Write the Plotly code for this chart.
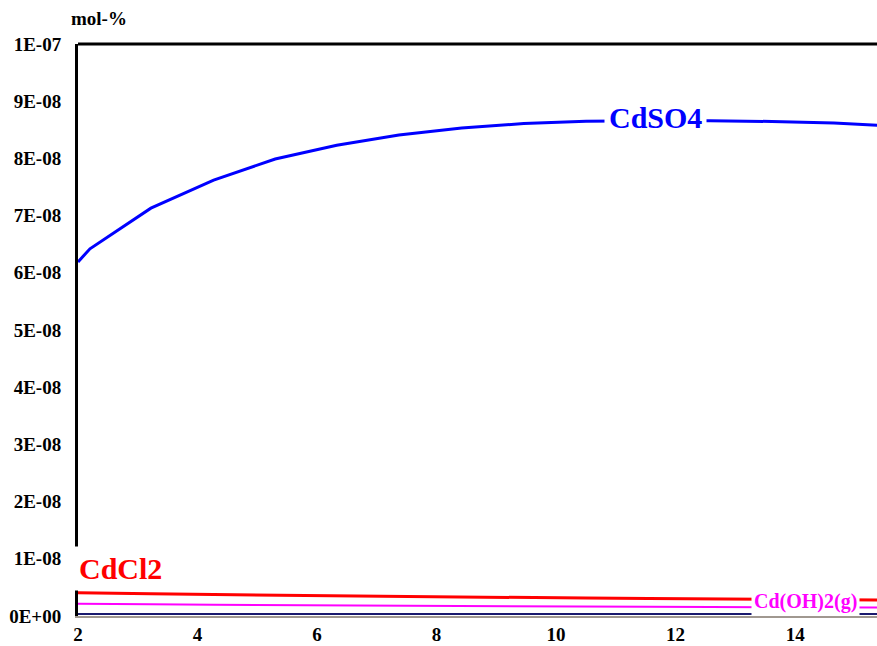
import plotly.graph_objects as go

#? data
x_vals    = [2.0, 2.2, 3.22, 4.27, 5.3, 6.33, 7.37, 8.42, 9.46, 10.5, 11.55, 12.58, 13.61, 14.65, 15.68]
cdso4     = [6.19e-8, 6.42e-8, 7.13e-8, 7.62e-8, 7.99e-8, 8.23e-8, 8.41e-8, 8.53e-8, 8.61e-8,
             8.65e-8, 8.66e-8, 8.66e-8, 8.645e-8, 8.62e-8, 8.56e-8]
cdcl2     = [4.07e-9, 4.02e-9, 3.88e-9, 3.75e-9, 3.63e-9, 3.52e-9, 3.42e-9, 3.32e-9, 3.22e-9,
             3.13e-9, 3.05e-9, 2.98e-9, 2.9e-9, 2.83e-9, 2.76e-9]
cdoh2     = [2.15e-9, 2.12e-9, 2.05e-9, 1.97e-9, 1.9e-9, 1.84e-9, 1.79e-9, 1.74e-9, 1.68e-9,
             1.63e-9, 1.6e-9, 1.56e-9, 1.53e-9, 1.5e-9, 1.47e-9]
cd_other  = [3.5e-10] * len(x_vals)

y_ticks   = [i * 1e-8 for i in range(11)]
y_labels  = [f"{v:.0E}" for v in y_ticks]
x_ticks   = [2, 4, 6, 8, 10, 12, 14]

FONT = "Liberation Serif"

fig = go.Figure()
fig.add_trace(go.Scatter(x=x_vals, y=cd_other, mode="lines", line=dict(color="#1a1a6e", width=2)))
fig.add_trace(go.Scatter(x=x_vals, y=cdoh2, mode="lines", line=dict(color="#ff00ff", width=2)))
fig.add_trace(go.Scatter(x=x_vals, y=cdcl2, mode="lines", line=dict(color="#ff0000", width=3)))
fig.add_trace(go.Scatter(x=x_vals, y=cdso4, mode="lines", line=dict(color="#0000ff", width=3)))

# top frame line
fig.add_shape(type="line", xref="paper", yref="paper", x0=0, x1=1, y0=1, y1=1,
              line=dict(color="black", width=3))

fig.add_annotation(x=11.67, y=8.66e-8, text="<b>CdSO4</b>", showarrow=False,
                   font=dict(family=FONT, size=30, color="#0000ff"),
                   bgcolor="white", borderpad=4, yshift=3)
fig.add_annotation(xref="paper", x=0, y=0.83e-8, text="<b>CdCl2</b>", showarrow=False,
                   xanchor="left", xshift=-5,
                   font=dict(family=FONT, size=30, color="#ff0000"),
                   bgcolor="white", borderpad=5)
fig.add_annotation(x=14.17, y=0.26e-8, text="<b>Cd(OH)2(g)</b>", showarrow=False,
                   font=dict(family=FONT, size=20, color="#ff00ff"),
                   bgcolor="white", borderpad=2)
fig.add_annotation(xref="paper", yref="paper", x=0, y=1, text="<b>mol-%</b>", showarrow=False,
                   xanchor="center", yanchor="middle", xshift=21, yshift=26,
                   font=dict(family=FONT, size=19, color="black"))

fig.update_layout(
    width=877, height=646,
    margin=dict(l=78, r=0, t=44, b=30),
    paper_bgcolor="white", plot_bgcolor="white",
    showlegend=False,
    font=dict(family=FONT, color="black"),
    xaxis=dict(range=[2, 15.37], tickvals=x_ticks, ticktext=[f"<b>{t}</b>" for t in x_ticks],
               showgrid=False, zeroline=False, showline=True, linecolor="#a09890", linewidth=2,
               ticks="", ticklabelstandoff=0, automargin=False,
               tickfont=dict(family=FONT, size=19, color="black")),
    yaxis=dict(range=[0, 1e-7], tickvals=y_ticks, ticktext=[f"<b>{t}</b>" for t in y_labels],
               showgrid=False, zeroline=False, showline=True, linecolor="black", linewidth=3,
               ticks="", ticklabelstandoff=10, automargin=False,
               tickfont=dict(family=FONT, size=19, color="black")),
)

# drop the page's default body margin so the figure fills the window
fig.write_html("out.html", config={"displayModeBar": False},
               post_script="document.body.style.margin='0';document.body.style.overflow='hidden';")
